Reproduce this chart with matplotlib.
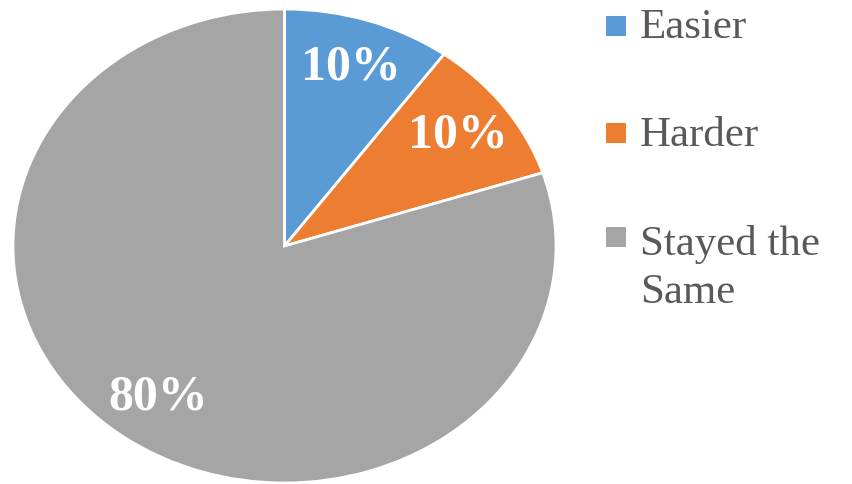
import matplotlib
matplotlib.use("Agg")
import matplotlib.pyplot as plt
from matplotlib.patches import Rectangle

# data
labels = ["Easier", "Harder", "Stayed the\nSame"]
shares = [10, 10, 80]
colors = ["#5B9BD5", "#ED7D31", "#A5A5A5"]

W, H = 852, 484
fig = plt.figure(figsize=(W / 100, H / 100), dpi=100)
plt.rcParams["font.family"] = ["Liberation Serif", "DejaVu Serif"]

# pie is drawn a bit wider than tall in the reference
ax = fig.add_axes([13 / W, 1 / H, 543 / W, 474 / H])
wedges, texts, autotexts = ax.pie(
    shares, colors=colors, startangle=90, counterclock=False,
    autopct="%d%%", pctdistance=0.79,
    wedgeprops=dict(edgecolor="white", linewidth=2),
    textprops=dict(color="white", fontsize=36, fontweight="bold"))
for w in wedges:
    w.set_clip_on(False)
ax.set_aspect("auto")
ax.set_xlim(-1, 1)
ax.set_ylim(-1, 1)
ax.axis("off")

# legend, drawn by hand so the swatch sits on the first text line
sq_top = [16, 123, 227]
baseline = [38, 146, 255]
line_gap = 48
for lab, col, top, base in zip(labels, colors, sq_top, baseline):
    fig.patches.append(Rectangle((606 / W, (H - top - 20) / H), 20 / W, 20 / H,
                                 transform=fig.transFigure, facecolor=col,
                                 edgecolor="none"))
    for i, line in enumerate(lab.split("\n")):
        fig.text(640 / W, (H - base - i * line_gap) / H, line, fontsize=31,
                 color="#595959", va="baseline", ha="left")

fig.savefig("out.png", dpi=100)
